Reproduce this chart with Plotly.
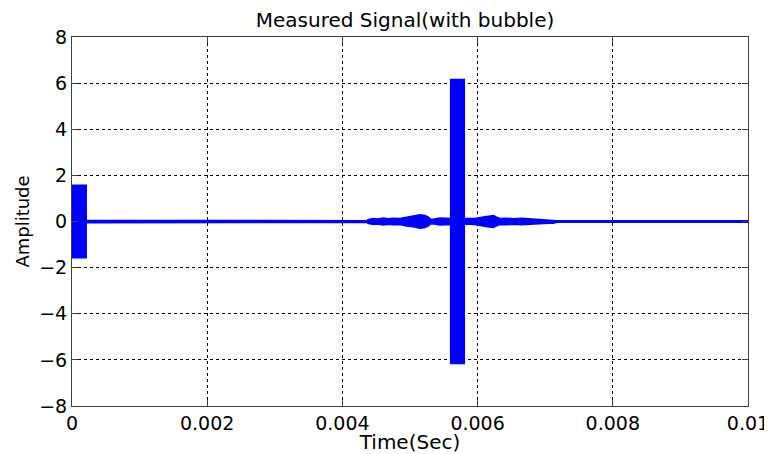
import plotly.graph_objects as go

# Envelope of the measured signal (time in seconds, amplitude half-width)
env_time = [0.0, 0.000207, 0.000215, 0.000290, 0.00436, 0.00438, 0.004457, 0.00452,
            0.004605, 0.00468, 0.004753, 0.00485, 0.004950, 0.005049, 0.00510, 0.005148,
            0.005222, 0.00527, 0.005296, 0.005345, 0.005444, 0.005543, 0.005605, 0.00580,
            0.00582, 0.005863, 0.005986, 0.006085, 0.00615, 0.006233, 0.00628, 0.006331,
            0.00643, 0.006529, 0.00665, 0.006775, 0.006923, 0.00705, 0.007120, 0.00717, 0.01]
env_amp = [1.56, 1.56, 0.04, 0.02, 0.02, 0.07, 0.12, 0.10,
           0.14, 0.11, 0.13, 0.12, 0.18, 0.22, 0.24, 0.28,
           0.25, 0.18, 0.10, 0.09, 0.14, 0.12, 6.15, 6.15,
           0.12, 0.10, 0.13, 0.18, 0.22, 0.25, 0.18, 0.12,
           0.13, 0.11, 0.13, 0.11, 0.07, 0.06, 0.06, 0.02, 0.02]

x_ticks = [0, 0.002, 0.004, 0.006, 0.008, 0.01]
x_tick_labels = ["0", "0.002", "0.004", "0.006", "0.008", "0.01"]
y_ticks = [-8, -6, -4, -2, 0, 2, 4, 6, 8]

# Closed band: upper envelope forward, lower envelope backward.
# Duplicate points at burst edges so the bursts have vertical walls.
xs, ups = [], []
for i, (t, a) in enumerate(zip(env_time, env_amp)):
    if i > 0 and a > 1 and env_amp[i - 1] < 1:
        xs.append(t); ups.append(env_amp[i - 1])
    xs.append(t); ups.append(a)
    if i + 1 < len(env_time) and a > 1 and env_amp[i + 1] < 1:
        xs.append(t); ups.append(env_amp[i + 1])
band_x = xs + xs[::-1]
band_y = ups + [-u for u in ups[::-1]]

BLUE = "#0000ff"
fig = go.Figure()
fig.add_trace(go.Scatter(x=band_x, y=band_y, mode="lines", fill="toself",
                         fillcolor=BLUE, line=dict(color=BLUE, width=2),
                         hoverinfo="skip", showlegend=False))

# The page body has an 8px margin, so the figure is 8px smaller and margins shifted.
W, H = 764, 446
font = "DejaVu Sans, Liberation Sans, Arial, sans-serif"
fig.update_layout(
    width=W, height=H,
    margin=dict(l=64, r=24, t=29, b=48, autoexpand=False),
    paper_bgcolor="white", plot_bgcolor="white",
    font=dict(family=font, size=19, color="black"),
    title=dict(text="Measured Signal(with bubble)", x=(405 - 8) / W, xanchor="center",
               xref="container", y=1 - 5 / H, yanchor="top", yref="container",
               pad=dict(t=0, b=0, l=0, r=0), font=dict(size=20)),
    showlegend=False,
)
axis_common = dict(showline=True, linecolor="#404040", linewidth=1, mirror="allticks",
                   ticks="inside", ticklen=6, tickcolor="#404040",
                   showgrid=True, gridcolor="black", griddash="dot", gridwidth=1,
                   zeroline=False, automargin=False)
fig.update_xaxes(range=[0, 0.01], tickvals=x_ticks, ticktext=x_tick_labels,
                 title=dict(text="Time(Sec)", standoff=0, font=dict(size=20)),
                 **axis_common)
fig.update_yaxes(range=[-8, 8], tickvals=y_ticks,
                 title=dict(text="Amplitude", standoff=4, font=dict(size=18)),
                 **axis_common)
fig.write_html("out.html")
